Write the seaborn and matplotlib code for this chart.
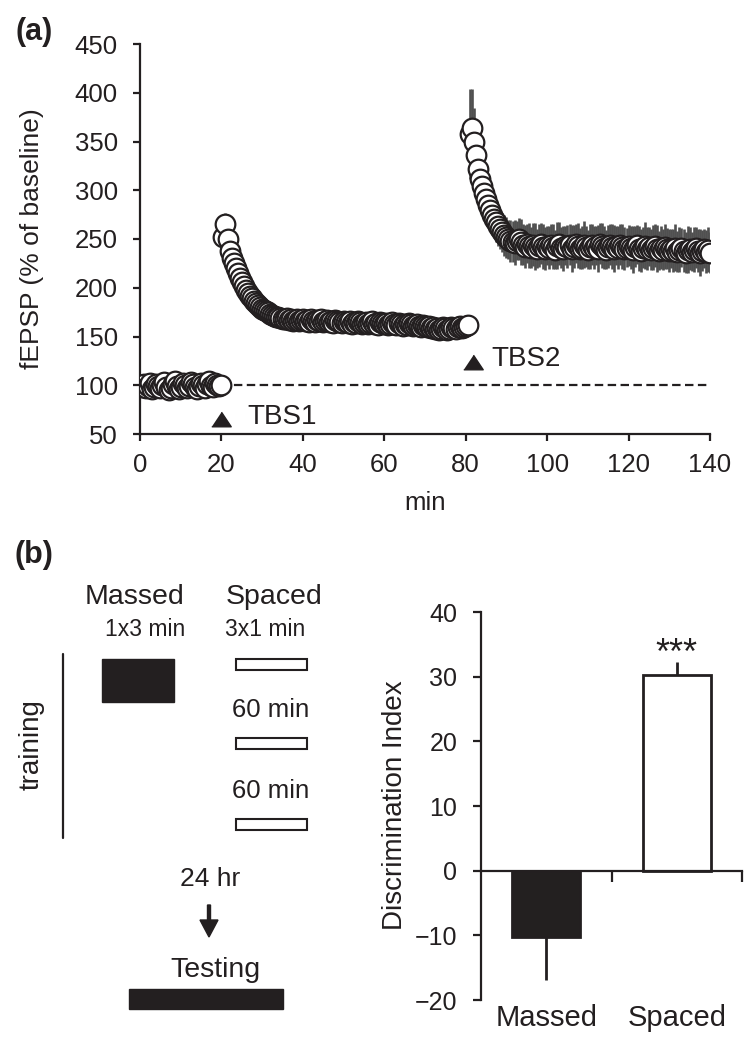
import numpy as np
import pandas as pd
import matplotlib
matplotlib.use("Agg")
import matplotlib.pyplot as plt
from matplotlib.patches import Rectangle, FancyArrow
import seaborn as sns

# ---------------- data: panel (a) ----------------
# fEPSP (% of baseline), one sample every 0.5 min, 0 .. 140 min
baseline = [100, 98, 101, 97, 99, 102, 96, 98, 101, 99,
            97, 100, 103, 98, 95, 97, 101, 104, 99, 96,
            98, 102, 100, 97, 99, 103, 101, 98, 96, 99,
            102, 100, 97, 101, 104, 99, 98, 102, 100, 99, 100]
after_tbs1 = [252, 265, 250, 238, 231, 225, 220, 215, 210, 206, 202, 198, 195, 192, 189, 186, 184, 182, 180, 178,
              177, 176, 175, 173, 172, 171, 170, 170, 169, 168, 168, 169, 167, 168, 166, 167, 168, 166, 167, 168,
              166, 167, 165, 168, 166, 165, 167, 166, 168, 165, 166, 167, 165, 166, 164, 167, 166, 165, 164, 166,
              165, 164, 166, 163, 165, 164, 166, 165, 163, 164, 165, 163, 164, 166, 163, 164, 162, 165, 164, 163,
              164, 162, 163, 165, 163, 162, 164, 163, 161, 163, 162, 164, 163, 161, 162, 163, 161, 160, 162, 161,
              160, 161, 159, 160, 158, 159, 157, 158, 160, 159, 157, 158, 160, 159, 158, 160, 161, 159, 160, 161, 162]
after_tbs2 = [358, 364, 350, 336, 322, 312, 304, 297, 291, 285, 280, 275, 271, 267, 263, 260, 257, 254, 252,
              250, 248, 247, 246, 248, 250, 247, 244, 242, 245, 243, 241, 244, 242, 240, 243, 245, 242, 240, 243,
              241, 244, 242, 239, 243, 245, 241, 240, 243, 242, 244, 240, 242, 245, 243, 240, 241, 244, 242, 239,
              242, 244, 241, 243, 240, 245, 243, 241, 239, 242, 244, 242, 240, 243, 241, 244, 242, 240, 241, 243,
              241, 239, 242, 244, 240, 238, 241, 243, 240, 242, 239, 241, 243, 240, 238, 241, 239, 242, 240, 238,
              240, 238, 241, 237, 239, 241, 238, 236, 239, 240, 237, 239, 241, 238, 236, 238, 240, 237, 239, 236]
sem_baseline = [3, 4, 3, 3, 4, 3, 4, 3, 3, 4, 3, 3, 4, 3, 4, 3, 3, 4, 3, 3,
                4, 3, 3, 4, 3, 4, 3, 3, 4, 3, 3, 4, 3, 3, 4, 3, 4, 3, 3, 4, 3]
sem_tbs1 = [15, 12, 10, 9, 8, 8, 7, 7, 7, 6, 6, 6, 6, 6, 6, 6, 6, 6, 6, 6,
            6, 6, 5, 6, 5, 6, 5, 6, 5, 6, 5, 6, 5, 6, 5, 6, 5, 6, 5, 6,
            5, 6, 5, 6, 5, 6, 5, 6, 5, 6, 5, 6, 5, 6, 5, 6, 5, 6, 5, 6,
            6, 5, 6, 5, 6, 5, 6, 5, 6, 5, 6, 5, 6, 5, 6, 5, 6, 5, 6, 5,
            5, 6, 5, 6, 5, 6, 5, 6, 5, 6, 5, 6, 5, 6, 5, 6, 5, 6, 5, 6,
            6, 5, 6, 5, 6, 5, 6, 5, 6, 5, 6, 5, 6, 5, 6, 5, 6, 5, 6, 5, 5]
sem_tbs2 = [46, 40, 34, 30, 27, 25, 24, 23, 22, 22, 21, 21, 20, 20, 20, 20, 20, 21, 21,
            20, 22, 21, 23, 20, 22, 24, 21, 22, 20, 23, 21, 22, 24, 20, 22, 21, 23, 22, 20,
            22, 21, 23, 20, 24, 22, 21, 23, 20, 22, 21, 24, 22, 20, 23, 21, 22, 24, 21, 20,
            23, 21, 22, 20, 24, 21, 23, 22, 20, 22, 21, 23, 24, 20, 22, 21, 23, 22, 20, 21,
            22, 24, 21, 20, 23, 22, 21, 24, 22, 20, 21, 23, 22, 24, 20, 22, 21, 23, 21, 22,
            20, 22, 24, 21, 23, 20, 22, 21, 24, 22, 20, 23, 21, 22, 24, 21, 20, 22, 23, 21]
sample_interval_min = 0.5
x_ticks_a = [0, 20, 40, 60, 80, 100, 120, 140]
y_ticks_a = [50, 100, 150, 200, 250, 300, 350, 400, 450]

# ---------------- data: panel (b) ----------------
groups = ["Massed", "Spaced"]
disc_index = [-10.2, 30.2]
err_low = [6.7, 0.0]
err_high = [0.0, 2.1]
y_ticks_b = [-20, -10, 0, 10, 20, 30, 40]

fepsp = baseline + after_tbs1 + after_tbs2
sem = sem_baseline + sem_tbs1 + sem_tbs2
df = pd.DataFrame({"min": np.arange(len(fepsp)) * sample_interval_min,
                   "fepsp": fepsp, "sem": sem})

sns.set_style("ticks")
plt.rcParams["font.family"] = ["Liberation Sans", "DejaVu Sans"]
INK = "#231f20"
W, H = 756, 1050

fig = plt.figure(figsize=(W / 100, H / 100), dpi=100)

# ---------------- panel (a) ----------------
axA = fig.add_axes([140 / W, 1 - 434 / H, 570 / W, 390 / H])
axA.errorbar(df["min"], df["fepsp"], yerr=df["sem"], fmt="none",
             ecolor="#505050", elinewidth=1.9, capsize=0, zorder=1)
axA.hlines(100, 20, 140, colors=INK, linestyles=(0, (3.8, 2.0)), lw=1.6, zorder=0.5)
sns.scatterplot(data=df, x="min", y="fepsp", s=200, color="white",
                edgecolor=INK, linewidth=1.6, ax=axA, zorder=3)
tri = [(-1, -0.75), (1, -0.75), (0, 0.75)]
axA.plot([20], [65.5], marker=tri, ms=14, color=INK, ls="none", zorder=4)
axA.text(26.3, 67, "TBS1", fontsize=20, va="center", ha="left", color=INK)
axA.plot([81.7], [124], marker=tri, ms=14, color=INK, ls="none", zorder=4)
axA.text(86.4, 127, "TBS2", fontsize=20, va="center", ha="left", color=INK)
axA.set_xlim(0, 140)
axA.set_ylim(50, 450)
axA.set_xticks(x_ticks_a)
axA.set_yticks(y_ticks_a)
axA.tick_params(axis="both", labelsize=18.5, width=1.6, length=5, color=INK, labelcolor=INK)
axA.tick_params(axis="y", pad=11)
axA.tick_params(axis="x", pad=9)
for sp in ["top", "right"]:
    axA.spines[sp].set_visible(False)
for sp in ["left", "bottom"]:
    axA.spines[sp].set_linewidth(1.6)
    axA.spines[sp].set_color(INK)
axA.set_xlabel("min", fontsize=18.5, color=INK, va="center")
axA.xaxis.set_label_coords(0.5, (434 - 503) / 390)
axA.set_ylabel("fEPSP (% of baseline)", fontsize=19, color=INK, va="center")
axA.yaxis.set_label_coords((32 - 140) / 570, 0.5)

# ---------------- panel (b) bar chart ----------------
axB = fig.add_axes([481 / W, 1 - 1000 / H, 261 / W, 388 / H])
sns.barplot(x=groups, y=disc_index, hue=groups, palette=[INK, "white"],
            width=0.52, edgecolor=INK, linewidth=2, errorbar=None,
            legend=False, ax=axB, zorder=2)
axB.errorbar([0, 1], disc_index, yerr=[err_low, err_high], fmt="none",
             ecolor=INK, elinewidth=2, capsize=0, zorder=1)
axB.text(1, 31.9, "***", fontsize=26, ha="center", va="baseline", color=INK)
axB.set_xlim(-0.5, 1.5)
axB.set_ylim(-20, 40)
axB.set_yticks(y_ticks_b)
axB.spines["bottom"].set_position(("data", 0))
axB.set_xticks([0.5, 1.5], labels=["", ""])
axB.set_xticks([0, 1], labels=groups, minor=True)
axB.tick_params(axis="x", which="major", length=8, width=1.6, color=INK)
axB.tick_params(axis="x", which="minor", length=0, pad=96, labelsize=21, labelcolor=INK)
axB.tick_params(axis="y", labelsize=18, width=1.6, length=6, pad=11, color=INK, labelcolor=INK)
for sp in ["top", "right"]:
    axB.spines[sp].set_visible(False)
for sp in ["left", "bottom"]:
    axB.spines[sp].set_linewidth(1.6)
    axB.spines[sp].set_color(INK)
axB.set_xlabel("")
axB.set_ylabel("Discrimination Index", fontsize=20, color=INK, va="center")
axB.yaxis.set_label_coords((395 - 481) / 261, (1000 - 805) / 388)

# ---------------- schematic + panel letters (pixel space) ----------------
axS = fig.add_axes([0, 0, 1, 1], zorder=-1)
axS.set_xlim(0, W)
axS.set_ylim(H, 0)
axS.axis("off")

axS.text(34, 32, "(a)", fontsize=22, fontweight="bold", ha="center", va="center", color=INK)
axS.text(34, 555, "(b)", fontsize=22, fontweight="bold", ha="center", va="center", color=INK)

axS.text(134.5, 597, "Massed", fontsize=20.5, ha="center", va="center", color=INK)
axS.text(274, 597, "Spaced", fontsize=20.5, ha="center", va="center", color=INK)
axS.text(145, 630, "1x3 min", fontsize=16.5, ha="center", va="center", color=INK)
axS.text(265.5, 630, "3x1 min", fontsize=16.5, ha="center", va="center", color=INK)

axS.plot([63, 63], [654, 838], color=INK, lw=1.6)
axS.text(32, 745, "training", fontsize=20, rotation=90, ha="center", va="center", color=INK)

axS.add_patch(Rectangle((102, 659), 72, 43, fc=INK, ec=INK, lw=1))
for top in [659, 738, 819]:
    axS.add_patch(Rectangle((236, top), 71, 11, fc="white", ec=INK, lw=1.5))
axS.text(271, 710, "60 min", fontsize=18.5, ha="center", va="center", color=INK)
axS.text(271, 791, "60 min", fontsize=18.5, ha="center", va="center", color=INK)

axS.text(210, 879, "24 hr", fontsize=19, ha="center", va="center", color=INK)
axS.add_patch(FancyArrow(209, 905, 0, 32, width=3, head_width=18, head_length=17,
                         length_includes_head=True, fc=INK, ec=INK))
axS.text(215, 970, "Testing", fontsize=20.5, ha="center", va="center", color=INK)
axS.add_patch(Rectangle((129, 989), 154, 20, fc=INK, ec=INK, lw=1))

fig.savefig("out.png", dpi=100)
